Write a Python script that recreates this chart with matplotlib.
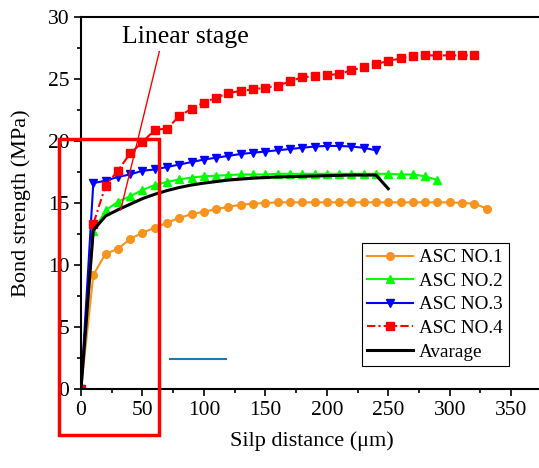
import matplotlib.pyplot as plt
from matplotlib.patches import Rectangle

plt.rcParams['font.family'] = ['Liberation Serif', 'DejaVu Serif']

# slip distance (um)
x1 = list(range(0, 340, 10))
y1 = [0, 9.2, 10.9, 11.3, 12.1, 12.6, 13.0, 13.4, 13.8, 14.1, 14.3, 14.5, 14.7, 14.85,
      14.95, 15.0, 15.05, 15.05, 15.05, 15.05, 15.05, 15.05, 15.05, 15.05, 15.05, 15.05,
      15.05, 15.05, 15.05, 15.05, 15.05, 15.0, 14.95, 14.55]

x2 = list(range(0, 300, 10))
y2 = [0, 12.7, 14.4, 15.1, 15.55, 16.05, 16.45, 16.7, 16.9, 17.05, 17.15, 17.2, 17.25,
      17.3, 17.3, 17.3, 17.35, 17.35, 17.35, 17.35, 17.35, 17.35, 17.35, 17.35, 17.35,
      17.35, 17.3, 17.3, 17.15, 16.85]

x3 = list(range(0, 250, 10))
y3 = [0, 16.6, 16.8, 17.1, 17.3, 17.6, 17.7, 17.9, 18.1, 18.3, 18.5, 18.65, 18.8, 18.95,
      19.05, 19.15, 19.25, 19.35, 19.45, 19.55, 19.6, 19.6, 19.55, 19.45, 19.25]

x4 = list(range(0, 330, 10))
y4 = [0, 13.3, 16.4, 17.6, 19.0, 19.9, 20.9, 21.0, 22.0, 22.6, 23.1, 23.5, 23.85, 24.05,
      24.15, 24.3, 24.45, 24.8, 25.15, 25.2, 25.3, 25.4, 25.7, 25.95, 26.2, 26.45, 26.65,
      26.85, 26.9, 26.9, 26.9, 26.9, 26.9]

xa = [0, 10, 20, 30, 40, 50, 60, 70, 80, 90, 100, 120, 140, 160, 180, 200, 220, 240, 250]
ya = [0, 12.8, 13.95, 14.45, 14.9, 15.35, 15.7, 16.0, 16.25, 16.45, 16.6, 16.85, 17.0,
      17.1, 17.15, 17.2, 17.25, 17.25, 16.15]

fig = plt.figure(figsize=(5.39, 4.68), dpi=100)
ax = fig.add_axes([0.1503, 0.1688, 0.855, 0.795])

ax.plot(x1, y1, '-', color='#F7931E', marker='o', ms=5.5, lw=1.5, label='ASC NO.1')
ax.plot(x2, y2, '-', color='#00FF00', marker='^', ms=6, lw=1.5, label='ASC NO.2')
ax.plot(x3, y3, '-', color='#0000FF', marker='v', ms=6, lw=1.5, label='ASC NO.3')
ax.plot(x4, y4, color='#FF0000', marker='s', ms=5.5, lw=1.5,
        linestyle=(0, (4, 1.5, 1, 1.5)), label='ASC NO.4')
ax.plot(xa, ya, '-', color='black', lw=2.2, label='Avarage')

# annotations
ax.add_patch(Rectangle((-17.9, -3.7), 81.4, 23.85, fill=False, ec='#FF0000', lw=2.5,
                       clip_on=False, zorder=5))
ax.plot([32.3, 63.7], [14.45, 27.2], color='#FF0000', lw=1)
ax.text(84.6, 28.4, 'Linear stage', fontsize=18.5, ha='center', va='center')
ax.plot([72.5, 118], [2.43, 2.43], color='#1f77b4', lw=1.5)

ax.set_xlim(0, 375)
ax.set_ylim(0, 30)
ax.set_xticks(range(0, 400, 50))
ax.set_xticks(range(25, 375, 50), minor=True)
ax.set_yticks(range(0, 35, 5))
ax.set_yticks([2.5 + 5 * i for i in range(6)], minor=True)
ax.tick_params(which='major', direction='out', length=5, width=1.2, labelsize=15.5)
ax.tick_params(which='minor', direction='out', length=3, width=1.2)
for s in ax.spines.values():
    s.set_linewidth(1.5)

ax.set_xlabel('Silp distance (μm)', fontsize=16, labelpad=8.5)
ax.set_ylabel('Bond strength (MPa)', fontsize=16, labelpad=12)

leg = ax.legend(loc='upper left', bbox_to_anchor=(0.609, 0.392), fontsize=13.8,
                fancybox=False, edgecolor='black', framealpha=1, handlelength=2.4,
                borderpad=0.3, labelspacing=0.32, handletextpad=0.3, borderaxespad=0)
leg.get_frame().set_linewidth(0.8)

fig.savefig('out.png', dpi=100)
